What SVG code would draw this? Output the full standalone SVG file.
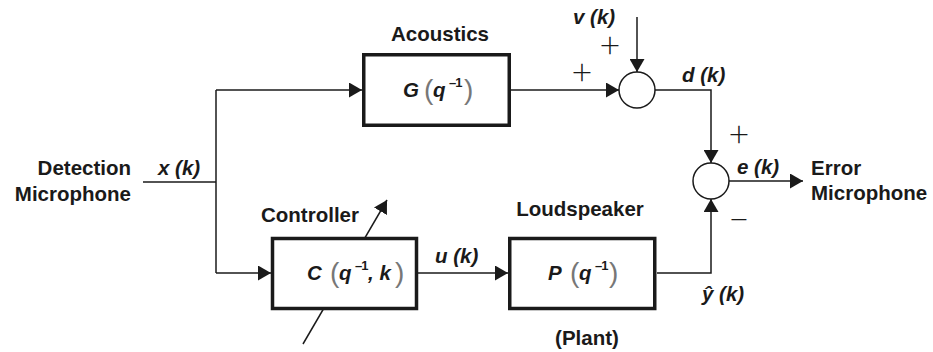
<svg xmlns="http://www.w3.org/2000/svg" width="933" height="352" viewBox="0 0 933 352">
<style>
.lbl{font-family:"Liberation Sans",Arial,sans-serif;font-weight:bold;font-size:20.5px;fill:#1a1a1a}
.it{font-family:"Liberation Sans",Arial,sans-serif;font-weight:bold;font-style:italic;font-size:20.5px;fill:#1a1a1a}
.sup{font-family:"Liberation Sans",Arial,sans-serif;font-weight:bold;font-size:13px;fill:#1a1a1a;letter-spacing:-1px}
.par{font-family:"Liberation Sans",Arial,sans-serif;font-weight:normal;font-size:28px;fill:#777}
.pm{font-family:Lato,"Liberation Sans",sans-serif;font-weight:300;font-size:36px;fill:#1a1a1a}
.box{fill:#fff;stroke:#1a1a1a;stroke-width:3.5}
.sum{fill:#fff;stroke:#1a1a1a;stroke-width:1.5}
.wire{fill:none;stroke:#1a1a1a;stroke-width:1.5}
.arr{marker-end:url(#ah)}
</style>
<defs>
<marker id="ah" markerUnits="userSpaceOnUse" markerWidth="13" markerHeight="15" refX="13" refY="7.5" orient="auto">
<path d="M0,0 L13,7.5 L0,15 z" fill="#1a1a1a"/>
</marker>
</defs>
<g id="connectors">
<line class="wire" x1="143" y1="182" x2="216" y2="182"/>
<line class="wire" x1="216" y1="90" x2="216" y2="273"/>
<line class="wire arr" x1="216" y1="90" x2="362" y2="90"/>
<line class="wire arr" x1="511" y1="90" x2="619" y2="90"/>
<line class="wire arr" x1="637" y1="17" x2="637" y2="72"/>
<polyline class="wire arr" points="655,90 711,90 711,163"/>
<line class="wire arr" x1="729" y1="181" x2="803" y2="181"/>
<polyline class="wire arr" points="657,273 711,273 711,199"/>
<line class="wire arr" x1="216" y1="273" x2="271" y2="273"/>
<line class="wire arr" x1="418" y1="273" x2="508" y2="273"/>
<line class="wire arr" x1="303" y1="344" x2="387" y2="200"/>
</g>
<g id="acoustics">
<rect class="box" x="363.75" y="54.75" width="145.5" height="70.5"/>
<text class="lbl" x="440" y="41" text-anchor="middle">Acoustics</text>
<text class="it" x="403" y="97">G</text>
<text class="par" x="424" y="99">(</text>
<text class="it" x="433" y="97">q</text>
<text class="sup" x="449" y="87">–1</text>
<text class="par" x="464" y="99">)</text>
</g>
<g id="controller">
<rect class="box" x="272.5" y="238.5" width="144" height="70"/>
<text class="lbl" x="310" y="222" text-anchor="middle">Controller</text>
<text class="it" x="307" y="280">C</text>
<text class="par" x="330" y="282">(</text>
<text class="it" x="339" y="280">q</text>
<text class="sup" x="355" y="270">–1</text>
<text class="it" x="368" y="280">, k</text>
<text class="par" x="395" y="282">)</text>
</g>
<g id="plant">
<rect class="box" x="509.75" y="238.5" width="145" height="70"/>
<text class="lbl" x="580" y="216" text-anchor="middle">Loudspeaker</text>
<text class="lbl" x="587" y="345" text-anchor="middle">(Plant)</text>
<text class="it" x="548" y="280">P</text>
<text class="par" x="570" y="282">(</text>
<text class="it" x="579" y="280">q</text>
<text class="sup" x="595" y="270">–1</text>
<text class="par" x="609" y="282">)</text>
</g>
<g id="sum1">
<circle class="sum" cx="637" cy="90" r="18"/>
<text class="pm" x="610" y="58" text-anchor="middle">+</text>
<text class="pm" x="582" y="85" text-anchor="middle">+</text>
</g>
<g id="sum2">
<circle class="sum" cx="711" cy="181" r="18"/>
<text class="pm" x="739" y="147" text-anchor="middle">+</text>
<text class="pm" x="739" y="232" text-anchor="middle">−</text>
</g>
<g id="labels">
<text class="lbl" x="131" y="175" text-anchor="end">Detection</text>
<text class="lbl" x="131" y="201" text-anchor="end">Microphone</text>
<text class="lbl" x="811" y="175">Error</text>
<text class="lbl" x="811" y="200">Microphone</text>
<text class="it" x="158" y="175">x (k)</text>
<text class="it" x="573" y="24">v (k)</text>
<text class="it" x="682" y="82">d (k)</text>
<text class="it" x="737" y="174">e (k)</text>
<text class="it" x="435" y="263">u (k)</text>
<text class="it" x="702" y="301">ŷ (k)</text>
</g>
</svg>
